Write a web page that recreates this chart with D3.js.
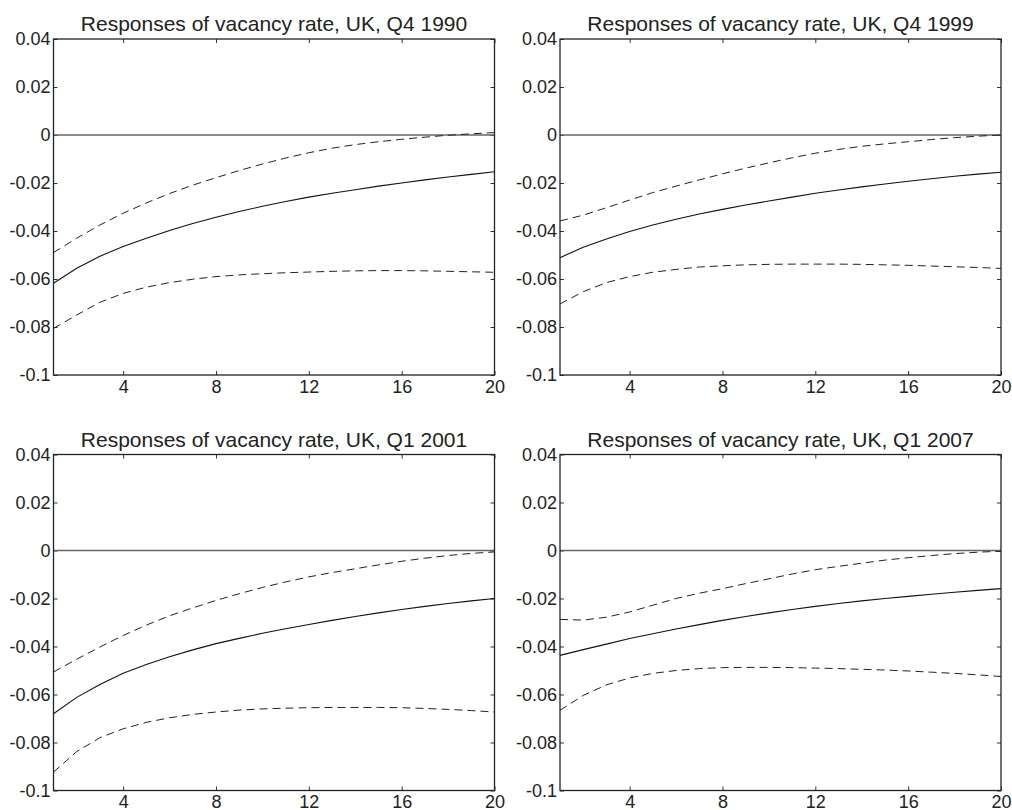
<!DOCTYPE html>
<html>
<head>
<meta charset="utf-8">
<script src="https://cdn.jsdelivr.net/npm/d3@7"></script>
<style>
  body { margin: 0; background: #fff; }
  svg text { font-family: "Liberation Sans", Arial, Helvetica, sans-serif; fill: #222; }
</style>
</head>
<body>
<script>
// horizon (quarters) and panel titles
var horizon = d3.range(1, 21);
var titles = [
  "Responses of vacancy rate, UK, Q4 1990",
  "Responses of vacancy rate, UK, Q4 1999",
  "Responses of vacancy rate, UK, Q1 2001",
  "Responses of vacancy rate, UK, Q1 2007"
];
var yTicks = [0.04, 0.02, 0, -0.02, -0.04, -0.06, -0.08, -0.1];
var yTickLabels = ["0.04", "0.02", "0", "-0.02", "-0.04", "-0.06", "-0.08", "-0.1"];
var xTicks = [4, 8, 12, 16, 20];

// point estimates
var mid1990 = [-0.0618,-0.0555,-0.0505,-0.0465,-0.0430,-0.0398,-0.0369,-0.0343,-0.0319,-0.0297,-0.0277,-0.0259,-0.0243,-0.0228,-0.0213,-0.0200,-0.0187,-0.0175,-0.0164,-0.0153];
var mid1999 = [-0.0511,-0.0468,-0.0433,-0.0402,-0.0375,-0.0351,-0.0329,-0.0310,-0.0292,-0.0275,-0.0259,-0.0243,-0.0229,-0.0216,-0.0204,-0.0193,-0.0182,-0.0172,-0.0163,-0.0155];
var mid2001 = [-0.0680,-0.0612,-0.0558,-0.0511,-0.0475,-0.0443,-0.0414,-0.0388,-0.0366,-0.0345,-0.0326,-0.0308,-0.0291,-0.0275,-0.0260,-0.0246,-0.0233,-0.0221,-0.0210,-0.0200];
var mid2007 = [-0.0437,-0.0413,-0.0390,-0.0367,-0.0347,-0.0327,-0.0309,-0.0291,-0.0275,-0.0260,-0.0246,-0.0233,-0.0221,-0.0210,-0.0200,-0.0191,-0.0182,-0.0174,-0.0166,-0.0159];

// upper bands
var up1990 = [-0.0490,-0.0430,-0.0375,-0.0326,-0.0283,-0.0244,-0.0209,-0.0178,-0.0148,-0.0121,-0.0096,-0.0074,-0.0055,-0.0040,-0.0028,-0.0018,-0.0009,-0.0001,0.0005,0.0010];
var up1999 = [-0.0358,-0.0334,-0.0303,-0.0271,-0.0240,-0.0213,-0.0187,-0.0162,-0.0138,-0.0116,-0.0095,-0.0076,-0.0060,-0.0047,-0.0037,-0.0028,-0.0019,-0.0011,-0.0005,0.0000];
var up2001 = [-0.0506,-0.0453,-0.0402,-0.0354,-0.0311,-0.0272,-0.0239,-0.0208,-0.0180,-0.0154,-0.0131,-0.0110,-0.0092,-0.0076,-0.0060,-0.0045,-0.0032,-0.0021,-0.0012,-0.0006];
var up2007 = [-0.0287,-0.0290,-0.0278,-0.0256,-0.0228,-0.0200,-0.0178,-0.0159,-0.0138,-0.0118,-0.0098,-0.0080,-0.0066,-0.0053,-0.0040,-0.0030,-0.0021,-0.0013,-0.0007,-0.0003];

// lower bands
var lo1990 = [-0.0806,-0.0750,-0.0697,-0.0660,-0.0634,-0.0615,-0.0601,-0.0590,-0.0583,-0.0578,-0.0574,-0.0571,-0.0568,-0.0566,-0.0565,-0.0565,-0.0566,-0.0568,-0.0570,-0.0572];
var lo1999 = [-0.0704,-0.0653,-0.0615,-0.0590,-0.0572,-0.0560,-0.0550,-0.0545,-0.0541,-0.0539,-0.0538,-0.0538,-0.0538,-0.0539,-0.0541,-0.0543,-0.0546,-0.0549,-0.0552,-0.0556];
var lo2001 = [-0.0923,-0.0838,-0.0780,-0.0743,-0.0716,-0.0697,-0.0683,-0.0673,-0.0665,-0.0660,-0.0657,-0.0655,-0.0654,-0.0654,-0.0654,-0.0655,-0.0658,-0.0662,-0.0667,-0.0673];
var lo2007 = [-0.0666,-0.0604,-0.0560,-0.0531,-0.0512,-0.0500,-0.0492,-0.0488,-0.0487,-0.0487,-0.0488,-0.0490,-0.0492,-0.0495,-0.0498,-0.0502,-0.0507,-0.0512,-0.0518,-0.0525];

var mids = [mid1990, mid1999, mid2001, mid2007],
    ups = [up1990, up1999, up2001, up2007],
    lows = [lo1990, lo1999, lo2001, lo2007];

// panel frames (left, top) in page pixels
var panelPos = [[53.5, 39], [560, 39], [53.5, 454.5], [560, 454.5]];
var plotW = 441, plotH = 336;

var svg = d3.select("body")
  .append("svg")
  .attr("width", 1012)
  .attr("height", 810);

var xScale = d3.scaleLinear().domain([1, 20]).range([0, plotW]);
var yScale = d3.scaleLinear().domain([-0.1, 0.04]).range([plotH, 0]);

titles.forEach(function(t, i){
  var g = svg.append("g")
    .attr("transform", "translate(" + panelPos[i][0] + "," + panelPos[i][1] + ")");

  // title
  g.append("text")
    .attr("x", plotW / 2)
    .attr("y", -8)
    .attr("text-anchor", "middle")
    .style("font-size", "21px")
    .text(t);

  // ticks inside the frame on all four sides
  var yLeft = d3.axisLeft(yScale).tickValues(yTicks).tickSize(-4).tickPadding(3)
    .tickFormat(function(d, k){ return yTickLabels[k]; });
  var yRight = d3.axisRight(yScale).tickValues(yTicks).tickSize(-4).tickFormat("");
  var xBottom = d3.axisBottom(xScale).tickValues(xTicks).tickSize(-4).tickPadding(5);
  var xTop = d3.axisTop(xScale).tickValues(xTicks).tickSize(-4).tickFormat("");

  var axes = [
    g.append("g").call(yLeft),
    g.append("g").attr("transform", "translate(" + plotW + ",0)").call(yRight),
    g.append("g").attr("transform", "translate(0," + plotH + ")").call(xBottom),
    g.append("g").call(xTop)
  ];
  axes.forEach(function(a){
    a.select(".domain").remove();
    a.selectAll("line").attr("stroke", "#333").attr("stroke-width", 1);
    a.selectAll("text").style("font-size", "18px").attr("fill", "#222");
  });

  // zero line
  g.append("line")
    .attr("x1", 0).attr("x2", plotW)
    .attr("y1", yScale(0)).attr("y2", yScale(0))
    .attr("stroke", "#666")
    .attr("stroke-width", 1.3);

  var line = d3.line()
    .x(function(d, k){ return xScale(horizon[k]); })
    .y(function(d){ return yScale(d); });

  [ups[i], lows[i]].forEach(function(s){
    g.append("path")
      .datum(s)
      .attr("d", line)
      .attr("fill", "none")
      .attr("stroke", "#222")
      .attr("stroke-width", 1)
      .attr("stroke-dasharray", "8,5");
  });

  g.append("path")
    .datum(mids[i])
    .attr("d", line)
    .attr("fill", "none")
    .attr("stroke", "#111")
    .attr("stroke-width", 1.1);

  // frame
  g.append("rect")
    .attr("width", plotW)
    .attr("height", plotH)
    .attr("fill", "none")
    .attr("stroke", "#222")
    .attr("stroke-width", 1.3);
});
</script>
</body>
</html>
